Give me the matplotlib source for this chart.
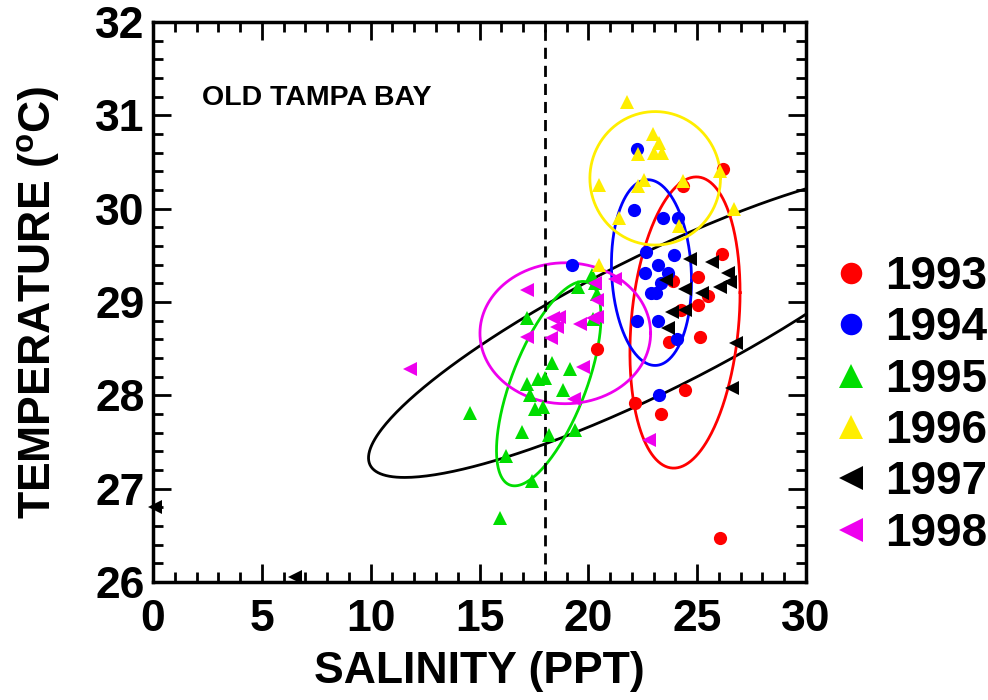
import numpy as np
import matplotlib
matplotlib.use("Agg")
import matplotlib.pyplot as plt
from matplotlib.lines import Line2D

plt.rcParams['font.family'] = ['Liberation Sans', 'DejaVu Sans']
plt.rcParams['font.weight'] = 'bold'
plt.rcParams['mathtext.fontset'] = 'custom'
plt.rcParams['mathtext.rm'] = 'Liberation Sans:bold'
plt.rcParams['mathtext.it'] = 'Liberation Sans:bold'
plt.rcParams['mathtext.bf'] = 'Liberation Sans:bold'

# ---- data (salinity, temperature) per year ----
sal_1993 = [26.2, 24.33, 26.12, 25.05, 23.87, 25.5, 25.05, 24.25, 23.72, 25.13, 20.38, 22.14, 24.44, 23.33, 26.05]
tmp_1993 = [30.42, 30.24, 29.51, 29.27, 29.22, 29.06, 28.97, 28.91, 28.57, 28.63, 28.50, 27.92, 28.06, 27.80, 26.47]

sal_1994 = [22.22, 22.11, 23.44, 24.13, 22.64, 23.93, 23.21, 22.60, 23.67, 23.32, 22.90, 23.13, 19.26, 22.25, 23.18, 24.05, 23.26]
tmp_1994 = [30.64, 29.99, 29.90, 29.90, 29.54, 29.50, 29.40, 29.31, 29.31, 29.20, 29.10, 29.10, 29.40, 28.80, 28.80, 28.60, 28.00]

sal_1995 = [20.15, 19.54, 20.30, 20.38, 17.17, 20.20, 18.31, 19.15, 17.17, 17.70, 18.00, 18.82, 17.32, 17.55, 17.93, 14.55, 16.96, 18.18, 19.38, 16.23, 17.39, 15.94]
tmp_1995 = [29.29, 29.16, 29.20, 29.09, 28.83, 28.82, 28.35, 28.28, 28.12, 28.18, 28.19, 28.06, 28.00, 27.85, 27.88, 27.81, 27.61, 27.58, 27.63, 27.35, 27.08, 26.69]

sal_1996 = [21.76, 22.95, 23.26, 22.27, 23.02, 23.37, 20.50, 22.29, 22.57, 24.33, 26.05, 26.69, 21.42, 24.15, 20.50]
tmp_1996 = [31.14, 30.80, 30.70, 30.59, 30.60, 30.60, 30.25, 30.24, 30.31, 30.30, 30.40, 30.00, 29.90, 29.81, 29.40]

sal_1997 = [24.67, 25.69, 26.43, 23.59, 24.44, 25.20, 26.05, 26.50, 23.83, 24.44, 23.67, 26.80, 26.58, 0.10, 6.52]
tmp_1997 = [29.46, 29.43, 29.31, 29.24, 29.14, 29.10, 29.16, 29.21, 28.89, 28.91, 28.72, 28.56, 28.08, 26.80, 26.05]

sal_1998 = [17.17, 21.22, 20.30, 20.41, 18.39, 18.66, 18.54, 19.61, 20.22, 20.41, 17.17, 18.27, 19.74, 19.34, 11.80, 22.80]
tmp_1998 = [29.13, 29.25, 29.20, 29.02, 28.83, 28.84, 28.73, 28.76, 28.83, 28.84, 28.63, 28.61, 28.30, 27.96, 28.28, 27.52]

years = ['1993', '1994', '1995', '1996', '1997', '1998']

# ellipse parameters: centre x, centre y, half-extent x, half-extent y, phase
ell_black = (22.9, 28.76, 13.0, 1.64, 0.511)
ell_1993 = (24.44, 28.78, 2.53, 1.56, 1.364)
ell_1994 = (22.90, 29.315, 1.84, 0.995, 1.661)
ell_1995 = (18.18, 28.125, 2.40, 1.095, 0.859)
ell_1996 = (23.07, 30.325, 3.00, 0.715, 1.5708)
ell_1998 = (18.94, 28.665, 3.92, 0.755, 1.5708)

salinity_limit = 18

# ---- styles ----
colors = ['#ff0000', '#0000ff', '#00dd00', '#ffee00', '#000000', '#ee00ee']
markers = ['o', 'o', '^', '^', '<', '<']
series = [(sal_1993, tmp_1993), (sal_1994, tmp_1994), (sal_1995, tmp_1995),
          (sal_1996, tmp_1996), (sal_1997, tmp_1997), (sal_1998, tmp_1998)]

fig = plt.figure(figsize=(9.88, 7.0), dpi=100)
ax = fig.add_axes([0.1549, 0.1686, 0.6609, 0.80])

def draw_ellipse(p, color):
    cx, cy, rx, ry, ph = p
    t = np.linspace(0, 2 * np.pi, 400)
    ax.plot(cx + rx * np.cos(t), cy + ry * np.cos(t + ph), color=color, lw=2.0, zorder=2)

draw_ellipse(ell_black, 'black')
draw_ellipse(ell_1993, colors[0])
draw_ellipse(ell_1994, colors[1])
draw_ellipse(ell_1995, colors[2])
draw_ellipse(ell_1996, colors[3])
draw_ellipse(ell_1998, colors[5])

ax.axvline(salinity_limit, color='black', lw=2.0, ls=(0, (4, 2.5)), zorder=2)

for (sx, ty), c, m in zip(series, colors, markers):
    ms = 9.5 if m == 'o' else 10.5
    ax.plot(sx, ty, ls='none', marker=m, color=c, ms=ms, mew=0, clip_on=False, zorder=3)

ax.set_xlim(0, 30)
ax.set_ylim(26, 32)
ax.set_xticks(np.arange(0, 31, 5))
ax.set_xticks(np.arange(0, 31, 1), minor=True)
ax.set_yticks(np.arange(26, 33, 1))
ax.set_yticks(np.arange(26, 32.01, 0.2), minor=True)
ax.tick_params(which='both', direction='in', top=True, right=True, width=2.0)
ax.tick_params(which='major', length=13)
ax.tick_params(which='minor', length=7)
ax.tick_params(axis='x', which='major', labelsize=32, pad=12)
ax.tick_params(axis='y', which='major', labelsize=32, pad=6)
for lab in ax.get_xticklabels() + ax.get_yticklabels():
    lab.set_fontweight('bold')
for sp in ax.spines.values():
    sp.set_linewidth(2.5)

ax.set_xlabel('SALINITY (PPT)', fontsize=32, fontweight='bold', labelpad=8)
ax.set_ylabel(r'TEMPERATURE ($^{o}$C)', fontsize=32, fontweight='bold', labelpad=24)

ax.text(0.075, 0.865, 'OLD TAMPA BAY', transform=ax.transAxes, fontsize=20.5, fontweight='bold',
        ha='left', va='center')

handles = []
for c, m in zip(colors, markers):
    ms = 15.5 if m == 'o' else 17
    handles.append(Line2D([], [], ls='none', marker=m, color=c, ms=ms, mew=0))
leg = fig.legend(handles, years, loc='center left', bbox_to_anchor=(0.838, 0.421),
                 frameon=False, prop={'family': 'Liberation Sans', 'weight': 'bold', 'size': 33},
                 handlelength=1.0, handletextpad=0.25, labelspacing=0.16, borderpad=0,
                 borderaxespad=0)

fig.savefig('out.png', dpi=100)
